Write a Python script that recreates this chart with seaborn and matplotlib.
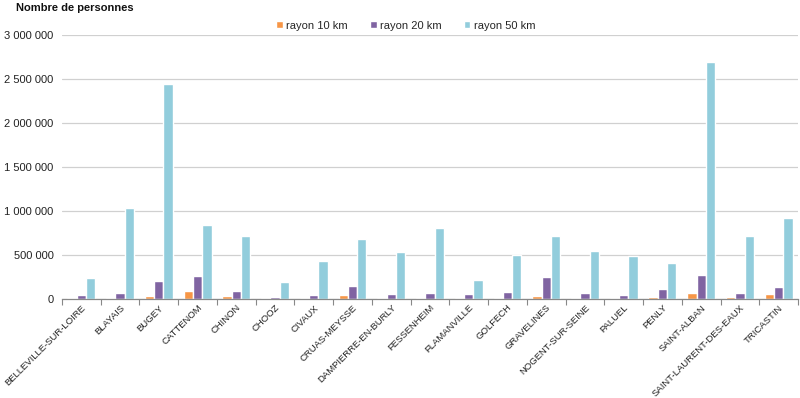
import numpy as np
import pandas as pd
import matplotlib
matplotlib.use("Agg")
import matplotlib.pyplot as plt
import seaborn as sns
from matplotlib.ticker import FuncFormatter, FixedLocator

sites = ["BELLEVILLE-SUR-LOIRE", "BLAYAIS", "BUGEY", "CATTENOM", "CHINON", "CHOOZ",
         "CIVAUX", "CRUAS-MEYSSE", "DAMPIERRE-EN-BURLY", "FESSENHEIM", "FLAMANVILLE",
         "GOLFECH", "GRAVELINES", "NOGENT-SUR-SEINE", "PALUEL", "PENLY", "SAINT-ALBAN",
         "SAINT-LAURENT-DES-EAUX", "TRICASTIN"]
rayon10 = [15000, 15000, 38000, 87000, 34000, 15000, 15000, 49000, 15000, 15000,
           15000, 12000, 34000, 15000, 11000, 26000, 72000, 23000, 60000]
rayon20 = [49000, 68000, 200000, 257000, 87000, 23000, 49000, 144000, 60000, 68000,
           60000, 79000, 249000, 68000, 49000, 110000, 268000, 68000, 136000]
rayon50 = [238000, 1030000, 2443000, 841000, 710000, 192000, 427000, 679000, 528000, 804000,
           211000, 502000, 710000, 540000, 483000, 411000, 2697000, 710000, 925000]
series = ["rayon 10 km", "rayon 20 km", "rayon 50 km"]
colors = ["#F79646", "#8064A2", "#92CDDC"]
yticks = [0, 500000, 1000000, 1500000, 2000000, 2500000, 3000000]

df = pd.DataFrame({
    "site": sites * 3,
    "serie": [series[0]] * len(sites) + [series[1]] * len(sites) + [series[2]] * len(sites),
    "valeur": rayon10 + rayon20 + rayon50,
})

sns.set_theme(style="white")
plt.rcParams["font.family"] = ["Liberation Sans", "DejaVu Sans"]

fig = plt.figure(figsize=(8, 3.98), dpi=100)
ax = fig.add_axes([0.0775, 0.249, 0.92, 0.663])

sns.barplot(data=df, x="site", y="valeur", hue="serie", hue_order=series,
            palette=colors, width=0.72, gap=0, ax=ax, saturation=1, errorbar=None)

ax.set_ylim(0, 3000000)
ax.set_xlim(-0.5, len(sites) - 0.5)
ax.yaxis.set_major_locator(FixedLocator(yticks))
ax.yaxis.set_major_formatter(FuncFormatter(lambda v, p: f"{int(v):,}".replace(",", " ")))
ax.grid(axis="y", color="#D0D0D0", linewidth=0.9)
ax.set_axisbelow(True)
for s in ["top", "right", "left"]:
    ax.spines[s].set_visible(False)
ax.spines["bottom"].set_color("#888888")
ax.spines["bottom"].set_linewidth(0.9)

ax.set_xlabel("")
ax.set_ylabel("")
ax.tick_params(axis="y", labelsize=8, length=0, pad=6, labelcolor="#222222")
ax.tick_params(axis="x", which="major", labelsize=6.8, length=0, pad=3, labelcolor="#222222")
ax.set_xticks(np.arange(-0.5, len(sites), 1.0), minor=True)
ax.tick_params(axis="x", which="minor", length=4, color="#888888", width=0.8, bottom=True)
plt.setp(ax.get_xticklabels(), rotation=45, ha="right", rotation_mode="anchor")

ax.legend(loc="center", bbox_to_anchor=(0.467, 1.035), ncol=3, frameon=False,
          fontsize=8, handlelength=0.6, handleheight=0.6, handletextpad=0.3,
          columnspacing=2.0)

fig.text(0.02, 0.993, "Nombre de personnes", fontsize=8, fontweight="bold",
         ha="left", va="top", color="#111111")

fig.savefig("out.png", dpi=100)
